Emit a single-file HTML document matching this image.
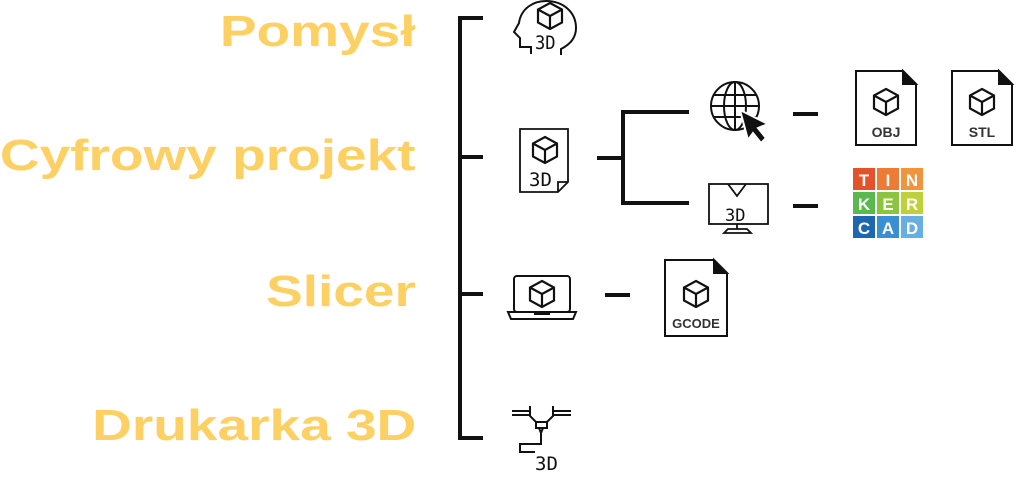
<!DOCTYPE html>
<html><head><meta charset="utf-8"><style>
html,body{margin:0;padding:0;background:#fff}
.t{position:absolute;right:608px;font-family:"Liberation Sans",sans-serif;font-weight:bold;color:#fcd063;font-size:44px;white-space:nowrap;line-height:1;transform:scaleX(1.25);transform-origin:right center}
</style></head><body>
<div style="position:relative;width:1024px;height:487px;overflow:hidden">
<div class="t" style="top:10px">Pomysł</div>
<div class="t" style="top:134px">Cyfrowy projekt</div>
<div class="t" style="top:270px">Slicer</div>
<div class="t" style="top:404px">Drukarka 3D</div>
<svg width="1024" height="487" style="position:absolute;left:0;top:0" fill="none" stroke="#111">
<defs>
<g id="cube" stroke-width="2"><path d="M0,-10 L9,-5 L9,5 L0,10 L-9,5 L-9,-5 Z M-9,-5 L0,0 L9,-5 M0,0 L0,10"/></g>
<g id="cubeL" stroke-width="2.2"><path d="M0,-13 L12,-6.5 L12,6.5 L0,13 L-12,6.5 L-12,-6.5 Z M-12,-6.5 L0,0 L12,-6.5 M0,0 L0,13"/></g>
</defs>
<!-- main bracket -->
<path d="M483,18 H460 V438 H483 M460,157 H483 M460,294 H483" stroke-width="4"/>
<!-- head -->
<g stroke-width="2">
<path d="M531,54 V47 H520 V38 L514,32 L519,23 C521,8 534,1 546,1 C563,1 576,12 576,28 C576,39 569,45 561,49 V55"/>
<use href="#cubeL" x="550" y="16"/>
</g>
<text x="535" y="49" font-family="DejaVu Sans Mono,monospace" font-size="19" fill="#111" stroke="none" transform="translate(535,0) scale(0.9,1) translate(-535,0)">3D</text>
<!-- doc -->
<path d="M520,129 H568 V182 L558,192 H520 Z M558,192 V182 H568" stroke-width="1.8"/>
<use href="#cubeL" x="545" y="150"/>
<text x="529" y="186" font-family="DejaVu Sans Mono,monospace" font-size="19" fill="#111" stroke="none">3D</text>
<!-- sub bracket -->
<path d="M597,158 H623 M689,112 H623 V203 H689" stroke-width="4"/>
<!-- globe -->
<g stroke-width="2"><circle cx="735" cy="106" r="24"/><ellipse cx="735" cy="106" rx="11" ry="24"/><path d="M735,82 V130 M711,106 H759 M714,95 H756 M714,117 H756"/></g>
<path d="M740,110 L768,124 L758,128 L766,138 L761,143 L753,133 L748,140 Z" fill="#111" stroke="#fff" stroke-width="2"/>
<!-- monitor -->
<g stroke-width="1.8"><rect x="709" y="184" width="59" height="40"/><path d="M737,224 V229 M724,233 L728,229 H747 L751,233 Z M728,184 L737,196 L746,184"/></g>
<text x="725" y="221" font-family="DejaVu Sans Mono,monospace" font-size="17" fill="#111" stroke="none">3D</text>
<!-- dashes -->
<path d="M793,114 H818 M793,206 H818 M605,295 H630" stroke-width="4"/>
<!-- files -->
<g stroke-width="2">
<path d="M856,71 H903 L916,84 V145 H856 Z" /><path d="M903,71 L916,84 H903Z" fill="#111"/>
<path d="M952,71 H999 L1012,84 V145 H952 Z" /><path d="M999,71 L1012,84 H999Z" fill="#111"/>
<path d="M665,260 H714 L727,273 V336 H665 Z" /><path d="M714,260 L727,273 H714Z" fill="#111"/>
</g>
<use href="#cubeL" x="886" y="102"/><use href="#cubeL" x="982" y="102"/><use href="#cubeL" x="696" y="294"/>
<g font-family="Liberation Sans,sans-serif" font-weight="bold" font-size="14" fill="#333" stroke="none" text-anchor="middle">
<text x="886" y="137">OBJ</text><text x="982" y="137">STL</text><text x="696" y="328" font-size="13">GCODE</text>
</g>
<!-- tinkercad -->
<g stroke="none">
<rect x="853" y="168" width="22" height="22" fill="#e4522c"/><rect x="877" y="168" width="22" height="22" fill="#ec7b35"/><rect x="901" y="168" width="22" height="22" fill="#f0953e"/>
<rect x="853" y="192" width="22" height="22" fill="#5bb84f"/><rect x="877" y="192" width="22" height="22" fill="#8cc43f"/><rect x="901" y="192" width="22" height="22" fill="#bfd13a"/>
<rect x="853" y="216" width="22" height="22" fill="#1e66b0"/><rect x="877" y="216" width="22" height="22" fill="#3a8ed2"/><rect x="901" y="216" width="22" height="22" fill="#68aee0"/>
<g fill="#fff" font-family="Liberation Sans,sans-serif" font-weight="bold" font-size="17" text-anchor="middle">
<text x="864" y="186">T</text><text x="888" y="186">I</text><text x="912" y="186">N</text>
<text x="864" y="210">K</text><text x="888" y="210">E</text><text x="912" y="210">R</text>
<text x="864" y="234">C</text><text x="888" y="234">A</text><text x="912" y="234">D</text>
</g></g>
<!-- laptop -->
<g stroke-width="2"><rect x="514" y="276" width="56" height="36" rx="3"/><path d="M508,312 H576 L573,319 H511 Z M535,312 V314 H549 V312"/></g>
<use href="#cubeL" x="542" y="294"/>
<!-- printer -->
<g stroke-width="2"><path d="M512,411 H530 M512,415 H530 M553,411 H571 M553,415 H571 M530,406 V416 L536,422 H547 L553,416 V406 M536,422 V428 H547 V422 M539,428 L541,433 L543,428 M541,433 V444 H520 V452 H535"/></g>
<text x="535" y="470" font-family="DejaVu Sans Mono,monospace" font-size="19" fill="#111" stroke="none">3D</text>
</svg>
</div>
</body></html>
